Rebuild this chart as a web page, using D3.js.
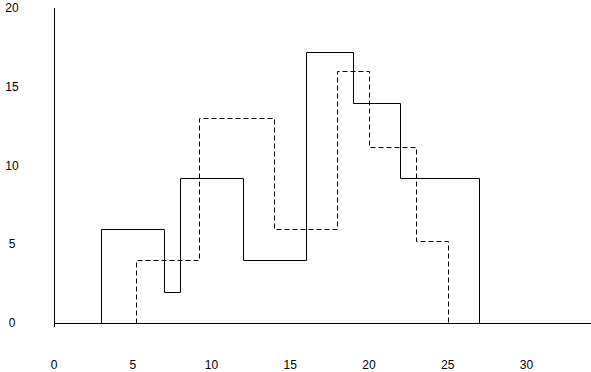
<!DOCTYPE html>
<html>
<head>
<meta charset="utf-8">
<script src="https://cdn.jsdelivr.net/npm/d3@7"></script>
<style>
  body { margin: 0; background: #fff; }
  svg { display: block; }
  text { font-family: "Liberation Sans", Arial, sans-serif; font-size: 12px; fill: #000; }
</style>
</head>
<body>
<svg width="591" height="372"></svg>
<script>
// bin edges and heights
const solidEdges = [3, 7, 8, 12, 16, 19, 22, 27];
const solidValues = [6, 2, 9.2, 4, 17.2, 14, 9.2];
const dashedEdges = [5.2, 9.2, 14, 18, 20, 23, 25];
const dashedValues = [4, 13, 6, 16, 11.2, 5.2];
const xTicks = [0, 5, 10, 15, 20, 25, 30];
const yTicks = [0, 5, 10, 15, 20];

const svg = d3.select("svg");

const x = d3.scaleLinear().domain([0, 34.1]).range([54, 591]);
const y = d3.scaleLinear().domain([0, 20]).range([323, 8]);

// turn edges + heights into a step outline starting and ending on the baseline
function stepPoints(edges, values) {
    const pts = [[edges[0], 0]];
    values.forEach((v, i) => {
        pts.push([edges[i], v]);
        pts.push([edges[i + 1], v]);
    });
    pts.push([edges[edges.length - 1], 0]);
    return pts;
}

const line = d3.line()
    .x(d => Math.round(x(d[0])) + 0.5)
    .y(d => Math.round(y(d[1])) + 0.5);

// axes
svg.append("line")
    .attr("x1", x(0) + 0.5).attr("x2", x(0) + 0.5)
    .attr("y1", y(20)).attr("y2", y(0) + 4)
    .attr("stroke", "#000").attr("stroke-width", 1);
svg.append("line")
    .attr("x1", x(0)).attr("x2", 591)
    .attr("y1", y(0) + 0.5).attr("y2", y(0) + 0.5)
    .attr("stroke", "#000").attr("stroke-width", 1);

// histograms
svg.append("path")
    .attr("d", line(stepPoints(solidEdges, solidValues)))
    .attr("fill", "none")
    .attr("stroke", "#000")
    .attr("stroke-width", 1);

svg.append("path")
    .attr("d", line(stepPoints(dashedEdges, dashedValues)))
    .attr("fill", "none")
    .attr("stroke", "#000")
    .attr("stroke-width", 1)
    .attr("stroke-dasharray", "5,3");

// tick labels
svg.selectAll(".xlab")
    .data(xTicks)
    .enter()
    .append("text")
    .attr("class", "xlab")
    .attr("x", d => x(d))
    .attr("y", 365)
    .attr("dy", "0.35em")
    .attr("text-anchor", "middle")
    .text(d => d);

svg.selectAll(".ylab")
    .data(yTicks)
    .enter()
    .append("text")
    .attr("class", "ylab")
    .attr("x", 12)
    .attr("y", d => y(d))
    .attr("dy", "0.35em")
    .attr("text-anchor", "middle")
    .text(d => d);
</script>
</body>
</html>
